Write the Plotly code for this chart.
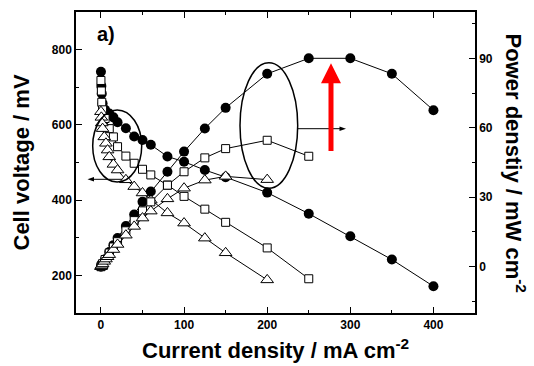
import plotly.graph_objects as go

# ---------------- data ----------------
# filled circles
cur_a = [0, 0.5, 1, 2, 5, 10, 15, 20, 30, 40, 50, 60, 80, 100, 125, 150, 200, 250, 300, 350, 400]
volt_a = [741, 703, 683, 657, 640, 630, 620, 607, 591, 569, 560, 547, 516, 502, 480, 461, 420, 364, 304, 242, 171]
pow_a = [0, 0.4, 0.7, 1.3, 3.2, 6.3, 9.3, 12.4, 17.6, 22.5, 28, 32.5, 41, 49.7, 59.7, 68.6, 83.3, 90, 90, 83.3, 67.6]

# open squares
cur_b = [0, 0.5, 1, 2, 5, 10, 15, 20, 30, 40, 50, 60, 80, 100, 125, 150, 200, 250]
volt_b = [718, 690, 660, 640, 617, 590, 568, 542, 517, 498, 482, 467, 440, 410, 376, 341, 273, 191]
pow_b = [0, 0.3, 0.7, 1.3, 3.1, 5.9, 8.5, 10.8, 15.5, 19.9, 24.1, 28, 35.2, 41, 47, 51, 54.6, 47.7]

# open triangles
cur_c = [0, 0.5, 1, 2, 4, 6, 8, 10, 15, 20, 30, 40, 50, 60, 80, 100, 125, 150, 200]
volt_c = [635, 620, 605, 590, 568, 551, 533, 515, 495, 480, 454, 436, 419, 400, 366, 339, 299, 260, 188]
pow_c = [0, 0.3, 0.6, 1.2, 2.3, 3.3, 4.3, 5.2, 7.4, 9.6, 13.6, 17.4, 21, 24, 29.3, 33.9, 37.4, 39, 37.6]

x_ticks = [0, 100, 200, 300, 400]
v_ticks = [200, 400, 600, 800]
p_ticks = [0, 30, 60, 90]

# ---------------- layout helpers ----------------
W, H = 534, 366
L, R, T, B = 76, 475, 12, 313


def px(x):
    return (x - L) / (R - L)


def py(y):
    return (B - y) / (B - T)


FONT = "Liberation Sans, Arial, sans-serif"

fig = go.Figure()

line_style = dict(color="black", width=1)

# circles
fig.add_trace(go.Scatter(x=cur_a, y=volt_a, mode="lines+markers", line=line_style,
                         marker=dict(symbol="circle", size=10, color="black"),
                         yaxis="y", showlegend=False))
fig.add_trace(go.Scatter(x=cur_a, y=pow_a, mode="lines+markers", line=line_style,
                         marker=dict(symbol="circle", size=10, color="black"),
                         yaxis="y2", showlegend=False))
# squares
sq = dict(symbol="square", size=8, color="white", line=dict(color="black", width=1))
fig.add_trace(go.Scatter(x=cur_b, y=volt_b, mode="lines+markers", line=line_style,
                         marker=sq, yaxis="y", showlegend=False))
fig.add_trace(go.Scatter(x=cur_b, y=pow_b, mode="lines+markers", line=line_style,
                         marker=sq, yaxis="y2", showlegend=False))
# triangles
tr = dict(symbol="triangle-up", size=11, color="white", line=dict(color="black", width=1))
fig.add_trace(go.Scatter(x=cur_c, y=volt_c, mode="lines+markers", line=line_style,
                         marker=tr, yaxis="y", showlegend=False))
fig.add_trace(go.Scatter(x=cur_c, y=pow_c, mode="lines+markers", line=line_style,
                         marker=tr, yaxis="y2", showlegend=False))

tickfont = dict(family=FONT, size=12, color="black", weight="bold")

fig.update_layout(
    width=W, height=H,
    margin=dict(l=L, r=W - R, t=T, b=H - B, autoexpand=False),
    paper_bgcolor="white", plot_bgcolor="white",
    hovermode=False,
    xaxis=dict(range=[-30, 450], tickvals=x_ticks, ticks="inside", ticklen=6,
               tickwidth=1, tickcolor="black", showline=True, linecolor="black",
               linewidth=1.5, mirror="ticks", showgrid=False, zeroline=False,
               tickfont=tickfont,
               minor=dict(dtick=50, ticks="inside", ticklen=3, tickcolor="black")),
    yaxis=dict(range=[100, 900], tickvals=v_ticks, ticks="inside", ticklen=6,
               tickwidth=1, tickcolor="black", showline=True, linecolor="black",
               linewidth=1.5, showgrid=False, zeroline=False, tickfont=tickfont,
               minor=dict(dtick=100, ticks="inside", ticklen=3, tickcolor="black")),
    yaxis2=dict(range=[-20, 110], tickvals=p_ticks, ticks="inside", ticklen=6,
                tickwidth=1, tickcolor="black", showline=True, linecolor="black",
                linewidth=1.5, showgrid=False, zeroline=False, tickfont=tickfont,
                overlaying="y", side="right",
                minor=dict(tick0=15, dtick=30, ticks="inside", ticklen=3, tickcolor="black")),
)

ann_font = dict(family=FONT, size=22, color="black", weight="bold")
fig.add_annotation(text="Current density / mA cm<sup>-2</sup>", xref="paper", yref="paper",
                   x=px(275.5), y=py(349), showarrow=False, font=ann_font,
                   xanchor="center", yanchor="middle")
fig.add_annotation(text="Cell voltage / mV", xref="paper", yref="paper",
                   x=px(21), y=py(162.5), showarrow=False, font=ann_font, textangle=-90,
                   xanchor="center", yanchor="middle")
fig.add_annotation(text="Power denstiy / mW cm<sup>-2</sup>", xref="paper", yref="paper",
                   x=px(516), y=py(162.5), showarrow=False, font=ann_font, textangle=90,
                   xanchor="center", yanchor="middle")
fig.add_annotation(text="a)", xref="paper", yref="paper", x=px(106), y=py(34),
                   showarrow=False, font=dict(family=FONT, size=20, color="black", weight="bold"),
                   xanchor="center", yanchor="middle")

# ellipses
fig.add_shape(type="circle", xref="paper", yref="paper",
              x0=px(92.7), x1=px(141.7), y0=py(182), y1=py(110),
              line=dict(color="black", width=1.5))
fig.add_shape(type="circle", xref="paper", yref="paper",
              x0=px(240), x1=px(297.7), y0=py(188.3), y1=py(62.7),
              line=dict(color="black", width=1.5))


def poly(points):
    return "M " + " L ".join(f"{px(a):.5f},{py(b):.5f}" for a, b in points) + " Z"


# black arrows (line + small head)
fig.add_shape(type="line", xref="paper", yref="paper", x0=px(122), x1=px(92),
              y0=py(179.3), y1=py(179.3), line=dict(color="black", width=1))
fig.add_shape(type="path", xref="paper", yref="paper",
              path=poly([(87.5, 179.3), (94, 177), (94, 181.6)]),
              fillcolor="black", line=dict(width=0))
fig.add_shape(type="line", xref="paper", yref="paper", x0=px(297.7), x1=px(341),
              y0=py(128.7), y1=py(128.7), line=dict(color="black", width=1))
fig.add_shape(type="path", xref="paper", yref="paper",
              path=poly([(346, 128.7), (339.5, 126.4), (339.5, 131)]),
              fillcolor="black", line=dict(width=0))

# red arrow
fig.add_shape(type="path", xref="paper", yref="paper",
              path=poly([(328.5, 151), (333.5, 151), (333.5, 83.3), (341, 83.3), (331, 63.3),
                         (321, 83.3), (328.5, 83.3)]),
              fillcolor="#ff0000", line=dict(width=0))

fig.write_html("out.html", config={"displayModeBar": False},
               post_script="document.body.style.margin='0';")
